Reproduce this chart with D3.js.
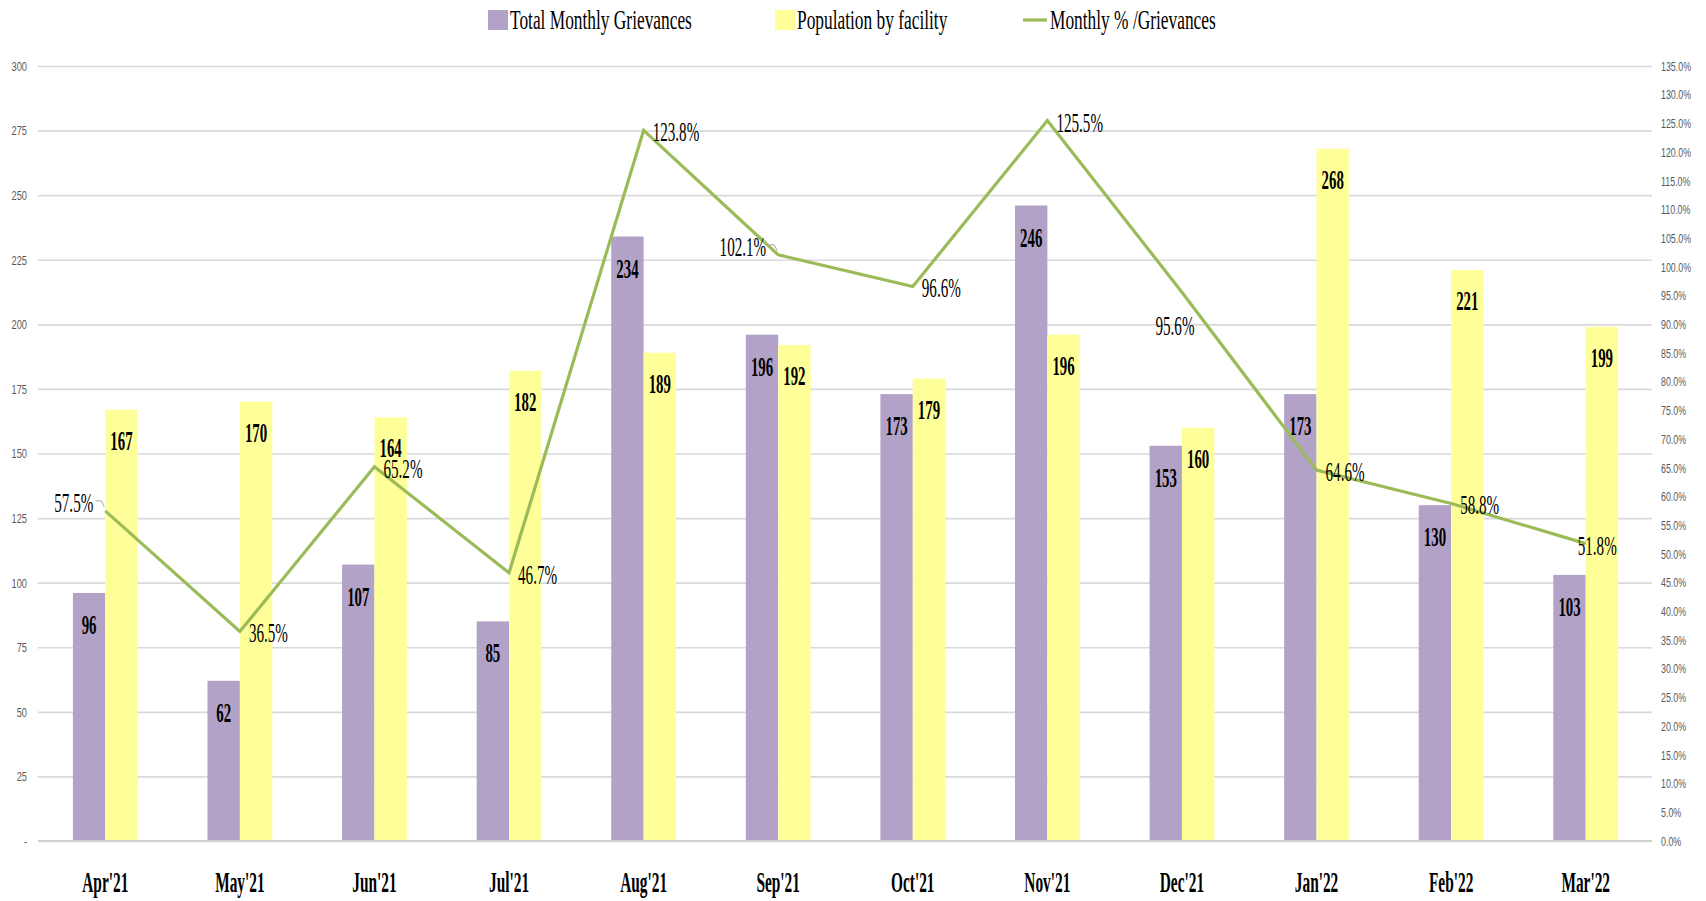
<!DOCTYPE html>
<html>
<head>
<meta charset="utf-8">
<script src="https://cdn.jsdelivr.net/npm/d3@7"></script>
<style>
  html, body { margin: 0; padding: 0; background: #ffffff; }
  svg { display: block; }
</style>
</head>
<body>
<svg id="chart" width="1706" height="901"></svg>
<script>
// Monthly grievances vs. facility population, Apr'21 – Mar'22
const months = ["Apr'21", "May'21", "Jun'21", "Jul'21", "Aug'21", "Sep'21",
                "Oct'21", "Nov'21", "Dec'21", "Jan'22", "Feb'22", "Mar'22"];
const grievances = [96, 62, 107, 85, 234, 196, 173, 246, 153, 173, 130, 103];
const population = [167, 170, 164, 182, 189, 192, 179, 196, 160, 268, 221, 199];
const grievancePct = [57.5, 36.5, 65.2, 46.7, 123.8, 102.1, 96.6, 125.5, 95.6, 64.6, 58.8, 51.8];

const countTicks = [0, 25, 50, 75, 100, 125, 150, 175, 200, 225, 250, 275, 300];
const pctTicks = [0, 5, 10, 15, 20, 25, 30, 35, 40, 45, 50, 55, 60, 65, 70,
                  75, 80, 85, 90, 95, 100, 105, 110, 115, 120, 125, 130, 135];

const seriesNames = ["Total Monthly Grievances", "Population by facility", "Monthly % /Grievances"];

// where each percentage label sits relative to its point
const pctPlacement = ["left", "right", "right", "right", "right", "left",
                      "right", "right", "below", "right", "right", "onpoint"];

const COLORS = { grievances: "#b3a2c7", population: "#ffff99", pct: "#9bbb59",
                 grid: "#d9d9d9", tick: "#595959", text: "#000000" };
const SERIF = "'Liberation Serif', 'Times New Roman', serif";
const SANS = "'Liberation Sans', Arial, sans-serif";

const svg = d3.select("#chart");
const plot = { left: 38, right: 1653, top: 66, bottom: 841 };

const x = d3.scaleBand().domain(months).range([plot.left, plot.right]).padding(0);
const xInner = d3.scaleBand().domain(["g", "p"]).range([0, x.bandwidth()])
  .paddingInner(0).paddingOuter(1.078);
const y = d3.scaleLinear().domain([0, 300]).range([plot.bottom, plot.top]);
const y2 = d3.scaleLinear().domain([0, 135]).range([plot.bottom, plot.top]);

// horizontally condensed text, anchored at (tx, ty)
function condensedText(sel, tx, ty, str, o) {
  return sel.append("text")
    .attr("transform", `translate(${tx},${ty}) scale(${o.sx},1)`)
    .attr("text-anchor", o.anchor || "middle")
    .attr("font-family", o.family || SERIF)
    .attr("font-size", o.size)
    .attr("font-weight", o.weight || "normal")
    .attr("fill", o.fill || COLORS.text)
    .text(str);
}

// gridlines
svg.append("g")
  .attr("transform", `translate(${plot.left},0)`)
  .call(d3.axisLeft(y).tickValues(countTicks).tickSize(-(plot.right - plot.left - 1)).tickFormat(""))
  .call(g => g.select(".domain").remove())
  .call(g => g.selectAll(".tick line").attr("stroke", COLORS.grid).attr("stroke-width", 1.6));

// left axis labels
svg.append("g")
  .attr("transform", `translate(${plot.left},0)`)
  .call(d3.axisLeft(y).tickValues(countTicks).tickSize(0).tickPadding(11)
    .tickFormat(d => d === 0 ? "-" : d))
  .call(g => g.select(".domain").remove())
  .call(g => g.selectAll(".tick text")
    .attr("x", null).attr("dy", "0.35em")
    .attr("transform", "translate(-11,0) scale(0.74,1)")
    .attr("font-family", SANS).attr("font-size", 12.5).attr("fill", COLORS.tick));

// right axis labels
svg.append("g")
  .attr("transform", `translate(${plot.right},0)`)
  .call(d3.axisRight(y2).tickValues(pctTicks).tickSize(0)
    .tickFormat(d => d3.format(".1f")(d) + "%"))
  .call(g => g.select(".domain").remove())
  .call(g => g.selectAll(".tick text")
    .attr("x", null).attr("dy", "0.35em")
    .attr("transform", "translate(8,0) scale(0.74,1)")
    .attr("font-family", SANS).attr("font-size", 12).attr("fill", COLORS.tick));

// bars
const rows = months.map((m, i) => ({ m, g: grievances[i], p: population[i], pct: grievancePct[i], i }));
const groups = svg.append("g").selectAll("g").data(rows).join("g")
  .attr("transform", d => `translate(${x(d.m)},0)`);

groups.append("rect")
  .attr("x", xInner("g")).attr("width", xInner.bandwidth())
  .attr("y", d => y(d.g)).attr("height", d => y(0) - y(d.g))
  .attr("fill", COLORS.grievances);
groups.append("rect")
  .attr("x", xInner("p")).attr("width", xInner.bandwidth())
  .attr("y", d => y(d.p)).attr("height", d => y(0) - y(d.p))
  .attr("fill", COLORS.population);

// baseline
svg.append("line")
  .attr("x1", plot.left).attr("x2", plot.right - 1)
  .attr("y1", y(0)).attr("y2", y(0))
  .attr("stroke", "#d0d0d0").attr("stroke-width", 2);

// bar value labels (inside end)
const barLabels = svg.append("g");
rows.forEach(d => {
  const gx = x(d.m) + xInner("g") + xInner.bandwidth() / 2;
  const px = x(d.m) + xInner("p") + xInner.bandwidth() / 2;
  condensedText(barLabels, gx, y(d.g) + 41, d.g, { size: 28, sx: 0.53, weight: "bold" });
  condensedText(barLabels, px, y(d.p) + 40, d.p, { size: 28, sx: 0.53, weight: "bold" });
});

// percentage line
const cx = d => x(d.m) + x.bandwidth() / 2;
svg.append("path")
  .datum(rows)
  .attr("fill", "none")
  .attr("stroke", COLORS.pct)
  .attr("stroke-width", 3.2)
  .attr("stroke-linejoin", "miter")
  .attr("d", d3.line().x(cx).y(d => y2(d.pct)));

// percentage labels
const pctLabels = svg.append("g");
rows.forEach(d => {
  const px = cx(d), py = y2(d.pct);
  const str = d3.format(".1f")(d.pct) + "%";
  const place = pctPlacement[d.i];
  const o = { size: 28, sx: 0.54 };
  if (place === "right") {
    condensedText(pctLabels, px + 9, py + 11, str, { ...o, anchor: "start" });
  } else if (place === "left") {
    condensedText(pctLabels, px - 12, py + 1, str, { ...o, anchor: "end" });
    // short leader from label to point
    pctLabels.append("path")
      .attr("d", `M${px - 10},${py - 10} H${px - 4} L${px - 1},${py - 4}`)
      .attr("fill", "none").attr("stroke", "#a6a6a6").attr("stroke-width", 1);
  } else if (place === "below") {
    condensedText(pctLabels, px - 7, py + 43, str, o);
  } else {
    condensedText(pctLabels, px - 8, py + 11, str, { ...o, anchor: "start" });
  }
});

// category labels
const catLabels = svg.append("g");
months.forEach(m => {
  condensedText(catLabels, x(m) + x.bandwidth() / 2, 892, m, { size: 29, sx: 0.53, weight: "bold" });
});

// legend
const legend = svg.append("g");
const legendItems = [
  { name: seriesNames[0], kind: "rect", color: COLORS.grievances, x: 488 },
  { name: seriesNames[1], kind: "rect", color: COLORS.population, x: 775 },
  { name: seriesNames[2], kind: "line", color: COLORS.pct, x: 1023 }
];
legendItems.forEach(it => {
  if (it.kind === "rect") {
    legend.append("rect").attr("x", it.x).attr("y", 10).attr("width", 20).attr("height", 20)
      .attr("fill", it.color);
    condensedText(legend, it.x + 22, 28.5, it.name, { size: 28, sx: 0.62, anchor: "start" });
  } else {
    legend.append("line").attr("x1", it.x).attr("x2", it.x + 24).attr("y1", 20).attr("y2", 20)
      .attr("stroke", it.color).attr("stroke-width", 3.2);
    condensedText(legend, it.x + 27, 28.5, it.name, { size: 28, sx: 0.62, anchor: "start" });
  }
});
</script>
</body>
</html>
